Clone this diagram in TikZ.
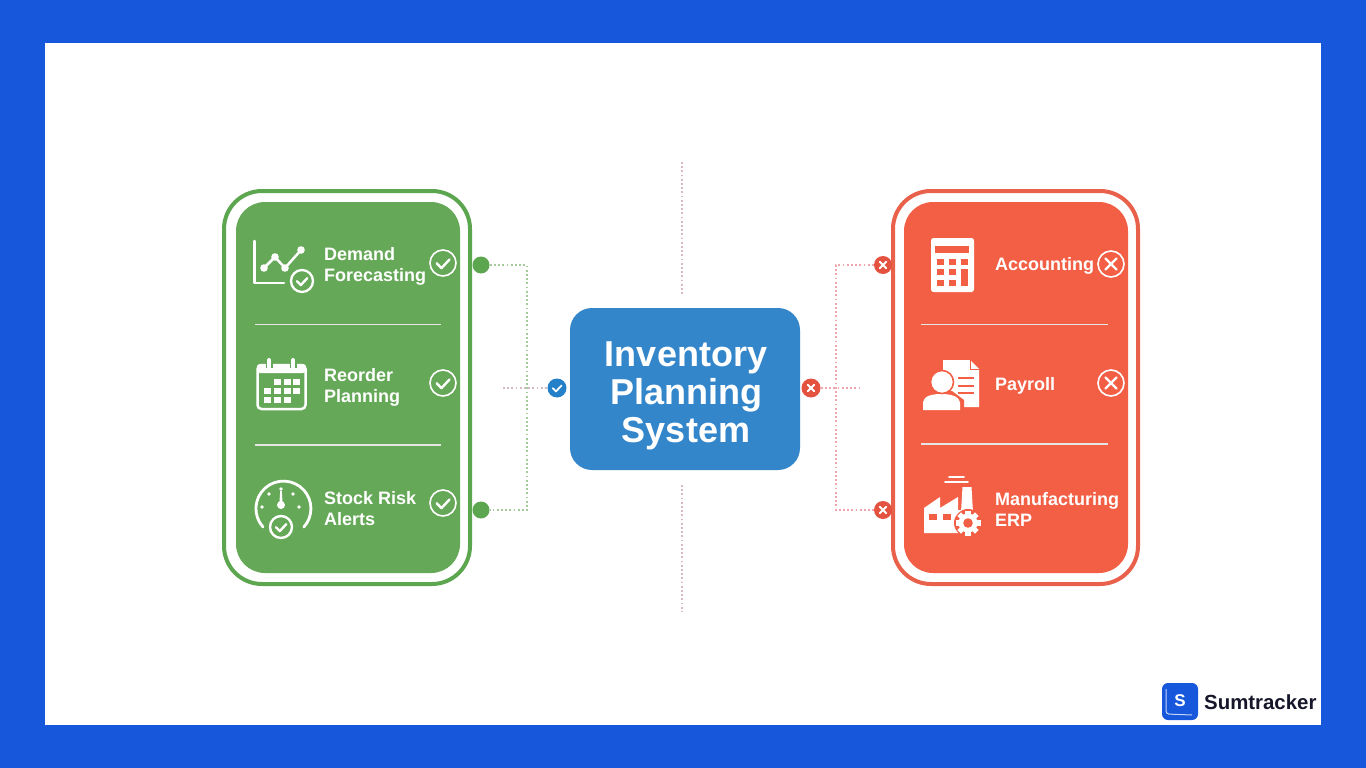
\documentclass[tikz,border=0pt]{standalone}
\usepackage{fontspec}
\setmainfont{Liberation Sans}
\definecolor{frameblue}{HTML}{1657DB}
\definecolor{gfill}{HTML}{65A857}
\definecolor{gline}{HTML}{5DA650}
\definecolor{rfill}{HTML}{F35F45}
\definecolor{rline}{HTML}{E9604B}
\definecolor{cblue}{HTML}{3486CB}
\definecolor{bbadge}{HTML}{2480C8}
\definecolor{rbadge}{HTML}{E35340}
\definecolor{dotgreen}{HTML}{A3CB9A}
\definecolor{dotpink}{HTML}{EFA5AE}
\definecolor{dotgrey}{HTML}{D8B9BE}
\definecolor{inkdark}{HTML}{17172B}
\tikzset{
  lbl/.style={anchor=west,align=left,text=white,font=\fontsize{18}{21}\selectfont\bfseries,inner sep=0pt},
  ring/.style={circle,draw=white,line width=1.6pt,minimum size=26pt,inner sep=0pt},
  sep/.style={draw=white!90!black,line width=1.3pt},
  dotg/.style={draw=dotgreen,line width=1.6pt,dash pattern=on 1.8pt off 2.4pt},
  dotr/.style={draw=dotpink,line width=1.6pt,dash pattern=on 1.8pt off 2.4pt},
  dotc/.style={draw=dotgrey,line width=1.6pt,dash pattern=on 1.8pt off 2.4pt},
  badge/.style={circle,fill=#1,minimum size=19pt,inner sep=0pt},
  ic/.style={draw=white,line width=2.5pt,line cap=round,line join=round},
  mk/.style={draw=white,line width=#1,line cap=round,line join=round,fill=none},
}
\newcommand{\ckmarks}[4]{\draw[mk=#4] (#1-0.42*#3,#2+0.02*#3) -- ++(0.32*#3,0.32*#3) -- ++(0.54*#3,-0.58*#3);}
\newcommand{\xmarks}[4]{\draw[mk=#4] (#1-#3,#2-#3) -- (#1+#3,#2+#3) (#1-#3,#2+#3) -- (#1+#3,#2-#3);}
\begin{document}
\begin{tikzpicture}[x=1pt,y=-1pt]
\useasboundingbox (0,0) rectangle (1366,768);
\fill[frameblue] (0,0) rectangle (1366,768);
\fill[white] (45,43) rectangle (1321,725);

% centre dividers
\coordinate (ct1) at (682,162); \coordinate (ct2) at (682,295);
\coordinate (cb1) at (682,485); \coordinate (cb2) at (682,612);
\draw[dotc] (ct1) -- (ct2);
\draw[dotc] (cb1) -- (cb2);

% panels
\draw[gline,line width=4pt,rounded corners=38pt] (224,191) rectangle (470,584);
\fill[gfill,rounded corners=29pt] (236,202) rectangle (460,573);
\draw[rline,line width=4pt,rounded corners=38pt] (893,191) rectangle (1138,584);
\fill[rfill,rounded corners=29pt] (904,202) rectangle (1128,573);

% centre box
\node[fill=cblue,rounded corners=22pt,minimum width=230pt,minimum height=162pt,inner sep=0pt] (box) at (685,389) {};
\node[text=white,align=center,font=\fontsize{36}{38}\selectfont\bfseries,inner sep=0pt] (boxt) at (686,396)
  {Inventory\\Planning\\System};

% connector ends
\node[circle,fill=gline,minimum size=17pt,inner sep=0pt] (gd1) at (481,265) {};
\node[circle,fill=gline,minimum size=17pt,inner sep=0pt] (gd2) at (481,510) {};
\node[badge=rbadge,minimum size=18pt] (rd1) at (883,265) {};
\node[badge=rbadge,minimum size=18pt] (rd2) at (883,510) {};
\node[badge=bbadge] (bb) at (557,388) {};
\node[badge=rbadge] (rb) at (811,388) {};
\coordinate (gv) at (527,388); \coordinate (rv) at (836,388);
\coordinate (cl) at (503,388); \coordinate (cr) at (862,388);
\draw[dotg] (gd1.east) -| (gv) |- (gd2.east);
\draw[dotr] (rd1.west) -| (rv) |- (rd2.west);
\draw[dotc] (cl) -- (bb.west);
\draw[dotr] (rb.east) -- (cr);
\ckmarks{557}{388}{10}{1.8pt}
\xmarks{811}{388}{3.2}{1.9pt}
\xmarks{883}{265}{3.2}{1.9pt}
\xmarks{883}{510}{3.2}{1.9pt}

% separators
\coordinate (gs1a) at (255,324.5); \coordinate (gs1b) at (441,324.5);
\coordinate (gs2a) at (255,445); \coordinate (gs2b) at (441,445);
\coordinate (rs1a) at (921,324.5); \coordinate (rs1b) at (1108,324.5);
\coordinate (rs2a) at (921,444); \coordinate (rs2b) at (1108,444);
\draw[sep] (gs1a) -- (gs1b); \draw[sep] (gs2a) -- (gs2b);
\draw[sep] (rs1a) -- (rs1b); \draw[sep] (rs2a) -- (rs2b);

% labels
\node[lbl] (t1) at (324,266) {Demand\\Forecasting};
\node[lbl] (t2) at (324,387.5) {Reorder\\Planning};
\node[lbl] (t3) at (324,509) {Stock Risk\\Alerts};
\node[lbl] (t4) at (995,265.5) {Accounting};
\node[lbl] (t5) at (995,385.5) {Payroll};
\node[lbl] (t6) at (995,509) {Manufacturing\\ERP};

% rings
\node[ring] (g1) at (443,263) {}; \ckmarks{443}{263}{15}{2.4pt}
\node[ring] (g2) at (443,383) {}; \ckmarks{443}{383}{15}{2.4pt}
\node[ring] (g3) at (443,503) {}; \ckmarks{443}{503}{15}{2.4pt}
\node[ring] (r1) at (1111,264) {}; \xmarks{1111}{264}{5.5}{2.2pt}
\node[ring] (r2) at (1111,383) {}; \xmarks{1111}{383}{5.5}{2.2pt}

% chart icon
\draw[ic] (254.5,241) -- (254.5,283) -- (284,283);
\draw[ic] (264,268) -- (275,257) -- (285,268) -- (301,250);
\foreach \p in {(264,268),(275,257),(285,268),(301,250)} \fill[white] \p circle (3.8pt);
\node[circle,draw=white,fill=gfill,line width=2.3pt,minimum size=22pt,inner sep=0pt] (ib1) at (302,281) {};
\ckmarks{302}{281}{12}{2.4pt}

% calendar icon
\draw[ic,rounded corners=4pt] (257.5,365) rectangle (305.5,409);
\fill[white,rounded corners=3pt] (257,364) rectangle (306,373);
\draw[gfill,line width=7pt] (269,356) -- (269,368);
\draw[gfill,line width=7pt] (293,356) -- (293,368);
\draw[white,line width=4pt,line cap=round] (269,360) -- (269,367);
\draw[white,line width=4pt,line cap=round] (293,360) -- (293,367);
\foreach \x/\y in {277/382,287/382,296/382,267/391,277/391,287/391,296/391,267/400,277/400,287/400}
  \fill[white] (\x-3.5,\y-3.2) rectangle (\x+3.5,\y+3.2);

% gauge icon
\draw[ic,line width=2.8pt] (263,527) arc[start angle=222,end angle=-42,radius=27.5,y radius=-27.5];
\fill[white] (279.2,506) -- (280.2,491) -- (281.8,491) -- (282.8,506) -- cycle;
\fill[white] (281,505) circle (4pt);
\foreach \x/\y in {281/489,269/494,293/494,262/507,299/507} \fill[white] (\x,\y) circle (1.9pt);
\node[circle,draw=white,fill=gfill,line width=2.4pt,minimum size=22pt,inner sep=0pt] (ib3) at (281,527) {};
\ckmarks{281}{527}{12}{2.4pt}

% calculator icon
\fill[white,rounded corners=2.5pt] (931,238) rectangle (974,292);
\fill[rfill] (935,244) rectangle (969,253);
\fill[white] (935,244) rectangle (969,246);
\foreach \x/\y in {940/262,952/262,964/262,940/272,952/272,940/283,952/283}
  \fill[rfill] (\x-3.5,\y-3) rectangle (\x+3.5,\y+3);
\fill[rfill] (960.5,269) rectangle (967.5,286);

% payroll icon
\fill[white] (943,360) -- (970,360) -- (979,369) -- (979,407) -- (943,407) -- cycle;
\draw[rfill,line width=1pt] (970,360) -- (970,369) -- (979,369);
\foreach \y in {378,386,393} \fill[rfill] (958,\y-1.2) rectangle (974,\y+1.2);
\fill[rfill] (918,412) -- (918,395) -- (935,391) -- (952,391) -- (964,400) -- (964,412) -- cycle;
\fill[white] (923,410) -- (923,402) .. controls (924,396) and (932,394) .. (941,394) .. controls (951,394) and (959,396) .. (960,403) -- (960,410) -- cycle;
\node[circle,draw=rfill,fill=white,line width=1.6pt,minimum size=23pt,inner sep=0pt] (ih) at (942,382) {};

% factory icon
\fill[white] (924,533) -- (924,508) -- (940,497) -- (940,508) -- (958,497) -- (958,510) -- (964,510) -- (964,533) -- cycle;
\fill[white] (962.5,487) -- (971.5,487) -- (973,512) -- (961,512) -- cycle;
\fill[rfill] (929,514) rectangle (937,520);
\fill[rfill] (943,514) rectangle (951,520);
\draw[white,line width=1.8pt,line cap=round] (945,482) -- (968,482);
\draw[white,line width=1.8pt,line cap=round] (949,477) -- (964,477);
\fill[rfill] (968,523) circle (14pt);
\foreach \a in {0,45,...,315} \fill[white,rotate around={\a:(968,523)}] (965.4,510.5) rectangle (970.6,518);
\fill[white] (968,523) circle (9.5pt);
\fill[rfill] (968,523) circle (4.8pt);

% logo
\fill[frameblue,rounded corners=6pt] (1162,683) rectangle (1198,720);
\draw[white!75!frameblue,line width=1pt,rounded corners=3pt] (1166,689) -- (1166,714) -- (1192,715);
\node[text=white,font=\fontsize{17}{17}\selectfont\bfseries,inner sep=0pt] (sl) at (1180,701) {S};
\node[anchor=west,text=inkdark,font=\fontsize{20.4}{22}\selectfont\bfseries,inner sep=0pt] (st) at (1204,702) {Sumtracker};
\end{tikzpicture}
\end{document}
